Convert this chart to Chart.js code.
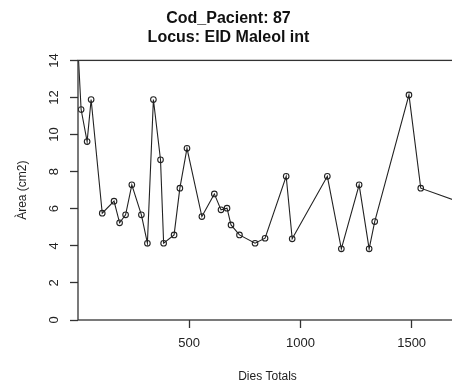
<!DOCTYPE html>
<html>
<head>
<meta charset="utf-8">
<script src="https://cdn.jsdelivr.net/npm/chart.js@4.4.1/dist/chart.umd.min.js"></script>
<style>
  html, body { margin: 0; padding: 0; background: #fff; overflow: hidden; }
  #wrap { width: 536px; height: 385px; }
</style>
</head>
<body>
<div id="wrap"><canvas id="areaChart" width="536" height="385"></canvas></div>
<script>
// dies totals de cada visita
const dies = [0, 14, 41, 59, 109, 162, 187, 214, 242, 285, 312, 339, 371, 385, 432, 458, 490,
              557, 613, 643, 670, 688, 726, 796, 841, 936, 963, 1121, 1184, 1264, 1309, 1334,
              1488, 1541, 1800];
// area (cm2) de cada visita
const area = [14.6, 11.35, 9.62, 11.89, 5.76, 6.41, 5.24, 5.67, 7.29, 5.67, 4.14, 11.89, 8.64,
              4.14, 4.59, 7.11, 9.26, 5.58, 6.80, 5.94, 6.03, 5.13, 4.59, 4.14, 4.41, 7.75,
              4.38, 7.75, 3.84, 7.29, 3.84, 5.31, 12.14, 7.11, 6.0];
const xTicks = [500, 1000, 1500];
const yTicks = [0, 2, 4, 6, 8, 10, 12, 14];

const punts = dies.map((d, i) => ({ x: d, y: area[i] }));

/* ============================
   MARC + ETIQUETES EIX Y (girades, com a R)
============================ */
const boxPlugin = {
    id: "box",
    afterDatasetsDraw(chart) {
        const a = chart.chartArea;
        const ctx = chart.ctx;
        ctx.save();
        ctx.strokeStyle = "#333";
        ctx.lineWidth = 1.3;
        ctx.strokeRect(a.left, a.top, a.right - a.left, a.bottom - a.top);

        const ys = chart.scales.y;
        ctx.fillStyle = "#222";
        ctx.font = "13px 'Liberation Sans', Arial";
        ctx.textAlign = "center";
        ctx.textBaseline = "middle";
        ys.ticks.forEach(t => {
            ctx.save();
            ctx.translate(a.left - 24, ys.getPixelForValue(t.value));
            ctx.rotate(-Math.PI / 2);
            ctx.fillText(String(t.value), 0, 0);
            ctx.restore();
        });
        ctx.restore();
    }
};

new Chart(document.getElementById("areaChart"), {
    type: "line",
    data: {
        datasets: [{
            data: punts,
            borderColor: "#222",
            borderWidth: 1.1,
            pointRadius: 2.8,
            pointBorderWidth: 1.1,
            pointBorderColor: "#222",
            pointBackgroundColor: "rgba(0,0,0,0)",
            tension: 0
        }]
    },
    plugins: [boxPlugin],
    options: {
        responsive: false,
        animation: false,
        layout: { padding: { left: 0, right: 79, top: 0, bottom: 0 } },
        plugins: {
            legend: { display: false },
            tooltip: { enabled: false },
            title: {
                display: true,
                text: ["Cod_Pacient: 87", "Locus: EID Maleol int"],
                color: "#111",
                font: { family: "Liberation Sans, Arial", size: 16, weight: "bold" },
                padding: { top: 9, bottom: 13 }
            }
        },
        scales: {
            x: {
                type: "linear",
                min: 0,
                max: 1704,
                afterBuildTicks: s => { s.ticks = xTicks.map(v => ({ value: v })); },
                grid: { drawOnChartArea: false, tickLength: 8, color: "#333", tickWidth: 1.3 },
                border: { display: false },
                ticks: {
                    color: "#222",
                    font: { family: "Liberation Sans, Arial", size: 13 },
                    padding: 8,
                    maxRotation: 0,
                    callback: v => String(v)
                },
                title: {
                    display: true,
                    text: "Dies Totals",
                    color: "#222",
                    font: { family: "Liberation Sans, Arial", size: 12 },
                    padding: { top: 0, bottom: 1 }
                },
                afterFit: s => { s.height = 65; }
            },
            y: {
                type: "linear",
                min: 0,
                max: 14,
                afterBuildTicks: s => { s.ticks = yTicks.map(v => ({ value: v })); },
                grid: { drawOnChartArea: false, tickLength: 8, color: "#333", tickWidth: 1.3 },
                border: { display: false },
                ticks: { display: false },
                title: {
                    display: true,
                    text: "Àrea (cm2)",
                    color: "#222",
                    font: { family: "Liberation Sans, Arial", size: 12 },
                    padding: { top: 15, bottom: 0 }
                },
                afterFit: s => { s.width = 78; }
            }
        }
    }
});
</script>
</body>
</html>
